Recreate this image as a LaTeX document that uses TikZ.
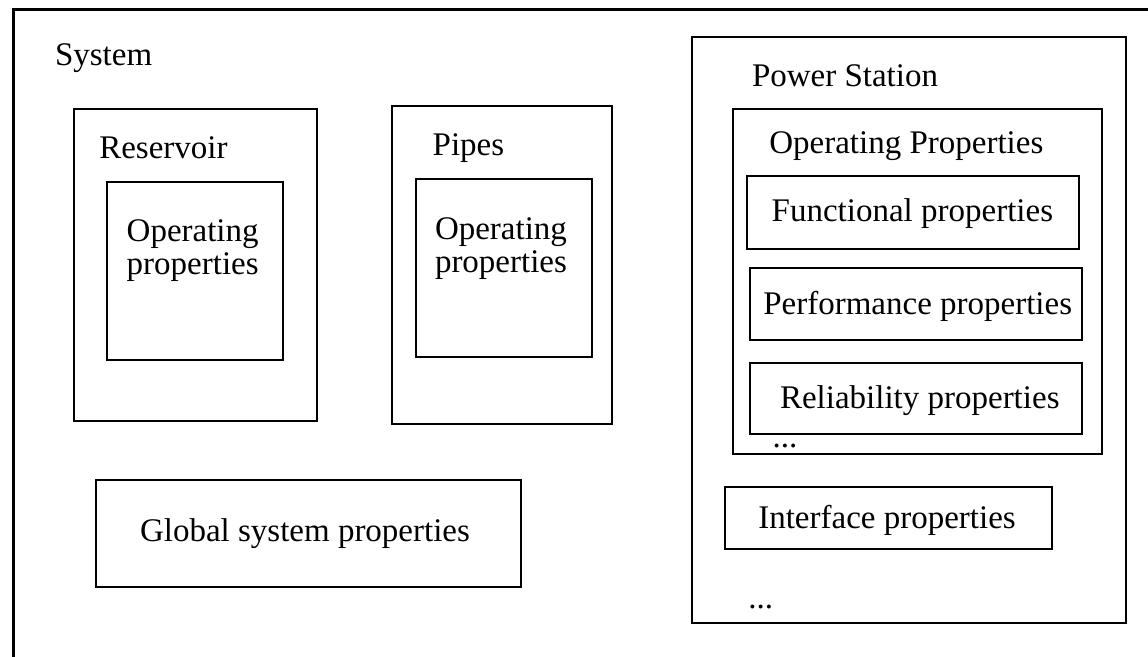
\documentclass[tikz,border=0pt]{standalone}
\usepackage{fontspec}
\setmainfont{Liberation Serif}
\begin{document}
\begin{tikzpicture}[x=1pt,y=-1pt,
  box/.style={draw=black,line width=2pt,inner sep=0pt,outer sep=0pt},
  lbl/.style={inner sep=0pt,outer sep=0pt,anchor=base west,font=\fontsize{33}{33}\selectfont}]
\useasboundingbox (0,0) rectangle (1148,656);
\begin{scope}
\clip (0,0) rectangle (1148,656);
\draw[line width=2.6pt] (13.5,700) -- (13.5,9.5) -- (1200,9.5);
\end{scope}
% left boxes
\node[box,minimum width=242.7pt,minimum height=311.7pt] (res) at (195.3,264.9) {};
\node[box,minimum width=176pt,minimum height=178.3pt] (resop) at (195.3,270.8) {};
\node[box,minimum width=220pt,minimum height=318.3pt] (pipes) at (501.7,265.2) {};
\node[box,minimum width=176.3pt,minimum height=178.3pt] (pipesop) at (504.2,268.2) {};
\node[box,minimum width=425pt,minimum height=107pt] (glob) at (308.5,533.5) {};
% power station
\node[box,minimum width=434pt,minimum height=586.3pt] (ps) at (909,330.2) {};
\node[box,minimum width=368.4pt,minimum height=344.7pt] (op) at (917.5,281.7) {};
\node[box,minimum width=331.7pt,minimum height=72.7pt] (func) at (913.2,212.4) {};
\node[box,minimum width=331.7pt,minimum height=71.7pt] (perf) at (915.9,304.2) {};
\node[box,minimum width=331.7pt,minimum height=71.6pt] (rel) at (915.9,398.5) {};
\node[box,minimum width=326.7pt,minimum height=61.7pt] (intf) at (888.4,518.2) {};
% labels
\node[lbl] (tsys) at (55,65) {System};
\node[lbl] (tres) at (99.3,158) {Reservoir};
\node[lbl] (tresa) at (126.7,241.7) {Operating};
\node[lbl] (tresb) at (126.7,274.5) {properties};
\node[lbl] (tpip) at (432.7,155) {Pipes};
\node[lbl] (tpipa) at (435,239) {Operating};
\node[lbl] (tpipb) at (435,272) {properties};
\node[lbl] (tglob) at (140,541.7) {Global system properties};
\node[lbl] (tps) at (752,86) {Power Station};
\node[lbl] (top) at (769.3,153.3) {Operating Properties};
\node[lbl] (tfunc) at (771.7,221.7) {Functional properties};
\node[lbl] (tperf) at (763.3,314) {Performance properties};
\node[lbl] (trel) at (780,408.3) {Reliability properties};
\node[lbl] (tdots1) at (772.7,447) {...};
\node[lbl] (tintf) at (758.3,528.3) {Interface properties};
\node[lbl] (tdots2) at (748.3,608.3) {...};
\end{tikzpicture}
\end{document}
